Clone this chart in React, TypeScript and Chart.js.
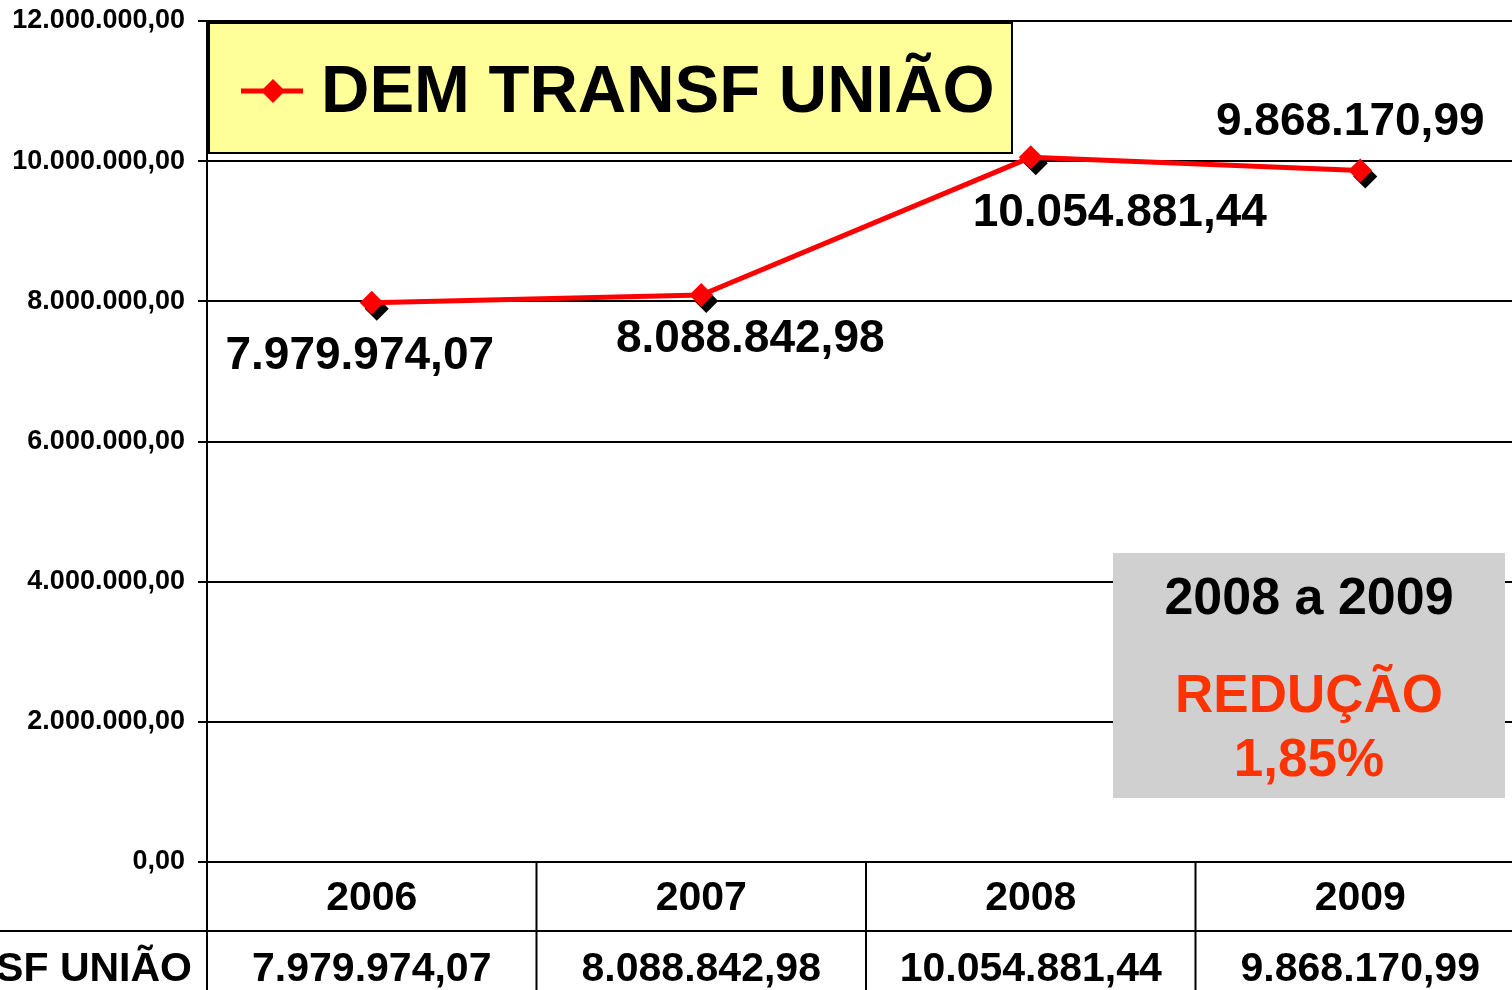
import React, { useEffect, useRef } from "react";
import { Chart, registerables } from "chart.js";

Chart.register(...registerables);

// ---- data ----
const years = ["2006", "2007", "2008", "2009"];
const values = [7979974.07, 8088842.98, 10054881.44, 9868170.99];
const seriesLabel = "DEM TRANSF UNIÃO";
const noteTitle = "2008 a 2009";
const noteLines = ["REDUÇÃO", "1,85%"];
// label offsets (px) relative to each point
const labelOffsets: [number, number][] = [
  [-12, 54],
  [49, 44],
  [89, 56],
  [-10, -48],
];

const FONT = "'Liberation Sans', Arial, Helvetica, sans-serif";

function fmt(v: number): string {
  const [i, d] = Number(v).toFixed(2).split(".");
  return i.replace(/\B(?=(\d{3})+(?!\d))/g, ".") + "," + d;
}

function diamond(ctx: CanvasRenderingContext2D, x: number, y: number, r: number) {
  ctx.beginPath();
  ctx.moveTo(x, y - r);
  ctx.lineTo(x + r, y);
  ctx.lineTo(x, y + r);
  ctx.lineTo(x - r, y);
  ctx.closePath();
  ctx.fill();
}

const decorPlugin = {
  id: "decor",
  beforeDatasetsDraw(chart: any) {
    const ctx = chart.ctx as CanvasRenderingContext2D;
    const meta = chart.getDatasetMeta(0);
    ctx.save();
    ctx.fillStyle = "#000";
    meta.data.forEach((p: any) => diamond(ctx, p.x + 5, p.y + 6, 12));
    ctx.restore();
  },
  afterDatasetsDraw(chart: any) {
    const ctx = chart.ctx as CanvasRenderingContext2D;
    const meta = chart.getDatasetMeta(0);
    ctx.save();
    ctx.fillStyle = "#000";
    ctx.font = `bold 46px ${FONT}`;
    ctx.textAlign = "center";
    ctx.textBaseline = "middle";
    meta.data.forEach((p: any, i: number) => {
      const [dx, dy] = labelOffsets[i];
      ctx.fillText(fmt(values[i]), p.x + dx, p.y + dy);
    });
    ctx.restore();
  },
  afterDraw(chart: any) {
    const ctx = chart.ctx as CanvasRenderingContext2D;
    const area = chart.chartArea;
    const xs = chart.scales.x;
    ctx.save();

    // legend box
    ctx.fillStyle = "#FFFF99";
    ctx.fillRect(209, 23, 803, 130);
    ctx.strokeStyle = "#000";
    ctx.lineWidth = 2;
    ctx.strokeRect(209, 23, 803, 130);
    ctx.strokeStyle = "#FF0000";
    ctx.lineWidth = 5;
    ctx.beginPath();
    ctx.moveTo(241, 91);
    ctx.lineTo(303, 91);
    ctx.stroke();
    ctx.fillStyle = "#FF0000";
    diamond(ctx, 273, 91, 12);
    ctx.fillStyle = "#000";
    ctx.font = `bold 67px ${FONT}`;
    ctx.textAlign = "left";
    ctx.textBaseline = "middle";
    ctx.fillText(seriesLabel, 321, 94);

    // note box
    ctx.fillStyle = "#D0D0D0";
    ctx.fillRect(1113, 553, 392, 245);
    ctx.textAlign = "center";
    ctx.fillStyle = "#000";
    ctx.font = `bold 52px ${FONT}`;
    ctx.fillText(noteTitle, 1309, 600);
    ctx.fillStyle = "#FF3300";
    ctx.font = `bold 53px ${FONT}`;
    ctx.fillText(noteLines[0], 1309, 697);
    ctx.fillText(noteLines[1], 1309, 761);

    // data table
    const n = years.length;
    const w = (area.right - area.left) / n;
    const rowY = area.bottom + 69;
    ctx.strokeStyle = "#000";
    ctx.lineWidth = 2;
    ctx.beginPath();
    ctx.moveTo(0, rowY);
    ctx.lineTo(chart.width, rowY);
    ctx.moveTo(area.left, area.bottom);
    ctx.lineTo(area.left, chart.height);
    for (let i = 1; i <= n; i++) {
      const bx = area.left + i * w;
      ctx.moveTo(bx, area.bottom);
      ctx.lineTo(bx, chart.height);
    }
    ctx.stroke();

    ctx.fillStyle = "#000";
    ctx.font = `bold 41px ${FONT}`;
    ctx.textAlign = "center";
    ctx.textBaseline = "middle";
    years.forEach((yr, i) => {
      const cx = xs.getPixelForValue(i);
      ctx.fillText(yr, cx, area.bottom + 37);
      ctx.fillText(fmt(values[i]), cx, rowY + 39);
    });
    ctx.textAlign = "right";
    ctx.fillText(seriesLabel, 192, rowY + 39);
    ctx.restore();
  },
};

export default function App() {
  const ref = useRef<HTMLCanvasElement | null>(null);
  useEffect(() => {
    if (!ref.current) return;
    const chart = new Chart(ref.current, {
      type: "line",
      data: {
        labels: years,
        datasets: [
          {
            label: seriesLabel,
            data: values,
            borderColor: "#FF0000",
            backgroundColor: "#FF0000",
            borderWidth: 5,
            pointStyle: "rectRot",
            pointRadius: 12,
            pointBorderWidth: 0,
            pointBackgroundColor: "#FF0000",
            tension: 0,
          },
        ],
      },
      options: {
        responsive: false,
        animation: false,
        devicePixelRatio: 1,
        layout: { padding: { top: 21, bottom: 128, left: 0, right: 0 } },
        plugins: { legend: { display: false }, tooltip: { enabled: false } },
        scales: {
          x: { display: false, offset: true },
          y: {
            min: 0,
            max: 12000000,
            afterFit(s: any) {
              s.width = 207;
              s.paddingTop = 0;
              s.paddingBottom = 0;
            },
            ticks: {
              stepSize: 2000000,
              callback: (v: any) => fmt(Number(v)),
              color: "#000",
              font: { family: FONT, weight: "bold", size: 27 },
              padding: 13,
            },
            grid: { color: "#000", lineWidth: 2, tickLength: 9 },
            border: { color: "#000", width: 2 },
          },
        },
      },
      plugins: [decorPlugin],
    } as any);
    return () => chart.destroy();
  }, []);
  return (
    <div
      style={{
        position: "fixed",
        left: 0,
        top: 0,
        width: 1512,
        height: 990,
        overflow: "hidden",
        background: "#fff",
      }}
    >
      <canvas ref={ref} width={1537} height={990} style={{ width: 1537, height: 990, display: "block" }} />
    </div>
  );
}
